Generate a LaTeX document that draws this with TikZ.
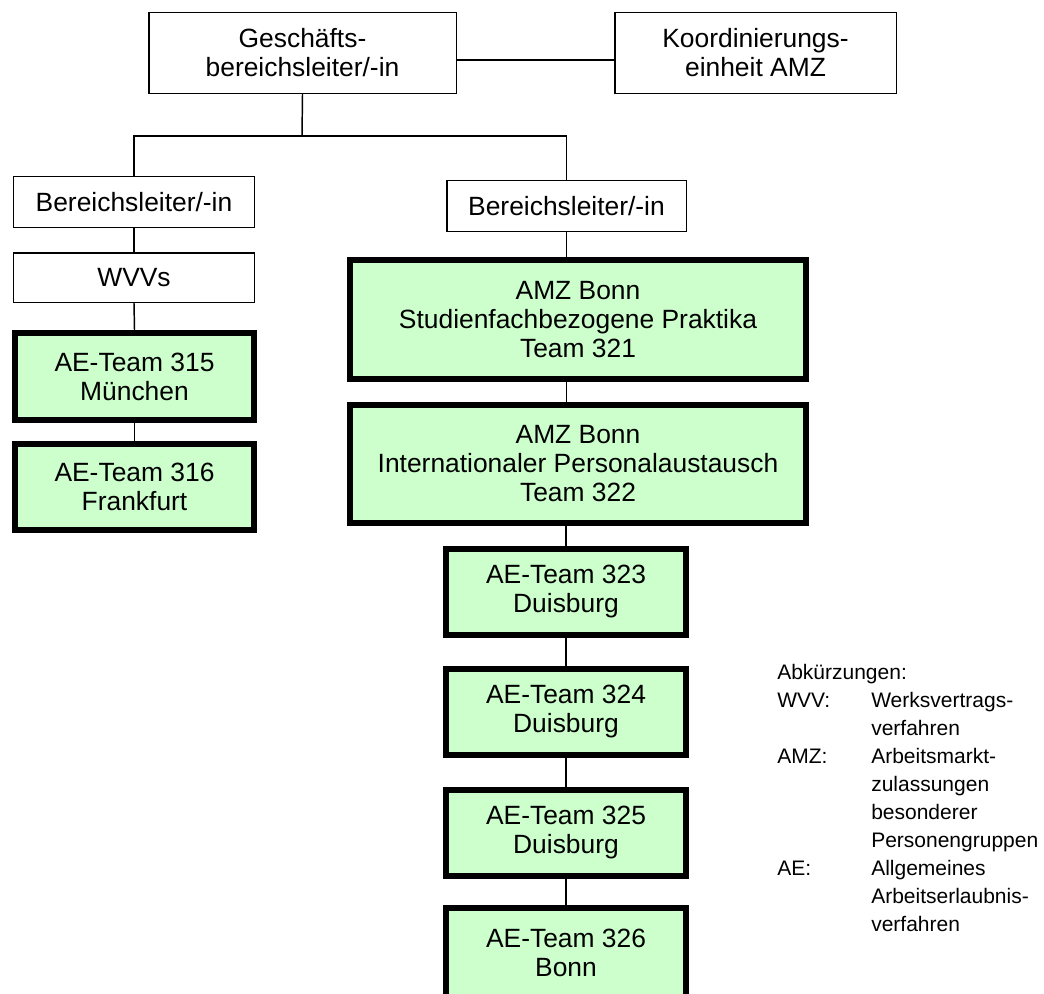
\documentclass[tikz,border=0pt]{standalone}
\usepackage{fontspec}
\setmainfont{Liberation Sans}
\definecolor{teamgreen}{RGB}{204,255,204}
\begin{document}
\begin{tikzpicture}[x=0.75pt,y=-0.75pt,
  orgbox/.style={draw,line width=1.1pt,fill=white,align=center,inner sep=0pt,
    font=\fontsize{19.8pt}{21.75pt}\selectfont},
  teambox/.style={orgbox,fill=teamgreen,line width=4.5pt},
  link/.style={line width=1.1pt}]
\useasboundingbox (0,0) rectangle (1044,993);

% management level
\node[orgbox,minimum width=230.6pt,minimum height=60.4pt] (gbl) at (302.5,53)
  {Geschäfts-\\bereichsleiter/-in};
\node[orgbox,minimum width=211.1pt,minimum height=60.4pt] (koord) at (755.5,53)
  {Koordinierungs-\\einheit AMZ};

% left branch
\node[orgbox,minimum width=180.4pt,minimum height=37.9pt] (bl1) at (134,202) {Bereichsleiter/-in};
\node[orgbox,minimum width=180.4pt,minimum height=37.1pt] (wvvs) at (134,277.5) {WVVs};
\node[teambox,minimum width=179.25pt,minimum height=65.25pt] (t315) at (134.5,376.5)
  {AE-Team 315\\München};
\node[teambox,minimum width=179.25pt,minimum height=64.5pt] (t316) at (134.5,487)
  {AE-Team 316\\Frankfurt};

% right branch
\node[orgbox,minimum width=179.6pt,minimum height=37.9pt] (bl2) at (566.5,206) {Bereichsleiter/-in};
\node[teambox,minimum width=342pt,minimum height=89.25pt] (amz321) at (578,319.5)
  {AMZ Bonn\\Studienfachbezogene Praktika\\Team 321};
\node[teambox,minimum width=342pt,minimum height=88.5pt] (amz322) at (578,464)
  {AMZ Bonn\\Internationaler Personalaustausch\\Team 322};
\node[teambox,minimum width=180pt,minimum height=64.5pt] (t323) at (566,592)
  {AE-Team 323\\Duisburg};
\node[teambox,minimum width=180pt,minimum height=64.5pt] (t324) at (566,712)
  {AE-Team 324\\Duisburg};
\node[teambox,minimum width=180pt,minimum height=64.5pt] (t325) at (566,832.5)
  {AE-Team 325\\Duisburg};
\node[teambox,minimum width=180pt,minimum height=67.5pt] (t326) at (566,953)
  {AE-Team 326\\Bonn};

% connectors
\coordinate (fork) at (302,136);
\draw[link] ([yshift=-5.25pt]gbl.east) -- ([yshift=-5.25pt]koord.west);
\draw[link] (gbl.south) -- (fork);
\draw[link] (bl1.north) |- (fork) -| (bl2.north);
\draw[link] (bl1.south) -- (wvvs.north);
\draw[link] (wvvs.south) -- (t315.north);
\draw[link] (t315.south) -- (t316.north);
\draw[link] (bl2.south) -- (bl2.south |- amz321.north);
\draw[link] (bl2.south |- amz321.south) -- (bl2.south |- amz322.north);
\draw[link] (t323.north |- amz322.south) -- (t323.north);
\draw[link] (t323.south) -- (t324.north);
\draw[link] (t324.south) -- (t325.north);
\draw[link] (t325.south) -- (t326.north);

% abbreviations
\node[anchor=base west,inner sep=0pt,font=\fontsize{15.75pt}{21pt}\selectfont] (legend) at (777,679.5)
  {\begin{tabular}[t]{@{}p{70.5pt}@{}l@{}}
   \multicolumn{2}{@{}l@{}}{Abkürzungen:}\\
   WVV: & Werksvertrags-\\
        & verfahren\\
   AMZ: & Arbeitsmarkt-\\
        & zulassungen\\
        & besonderer\\
        & Personengruppen\\
   AE:  & Allgemeines\\
        & Arbeitserlaubnis-\\
        & verfahren
   \end{tabular}};
\end{tikzpicture}
\end{document}
